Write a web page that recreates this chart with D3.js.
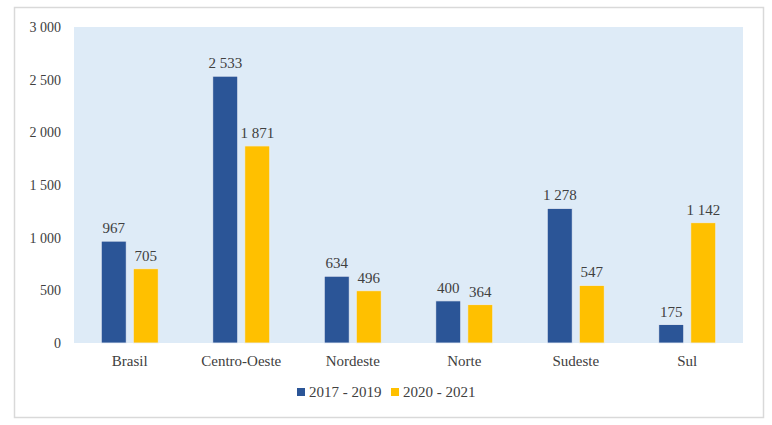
<!DOCTYPE html>
<html>
<head>
<meta charset="utf-8">
<script src="https://cdn.jsdelivr.net/npm/d3@7"></script>
<style>
  html, body { margin: 0; padding: 0; background: #fff; }
</style>
</head>
<body>
<div id="chart"></div>
<script>
const categories = ["Brasil", "Centro-Oeste", "Nordeste", "Norte", "Sudeste", "Sul"];
const seriesNames = ["2017 - 2019", "2020 - 2021"];
const values2017 = [967, 2533, 634, 400, 1278, 175];
const values2020 = [705, 1871, 496, 364, 547, 1142];
const yTicks = [0, 500, 1000, 1500, 2000, 2500, 3000];
const colors = ["#2b5597", "#ffc000"];

const width = 772, height = 425;
const plot = { left: 74, right: 743, top: 27, bottom: 343 };

const fmt = n => d3.format(",")(n).replace(/,/g, " ");

const svg = d3.select("#chart").append("svg")
  .attr("width", width)
  .attr("height", height)
  .attr("font-family", "Times New Roman");

// outer frame
svg.append("rect")
  .attr("x", 14.5).attr("y", 7.5)
  .attr("width", 749).attr("height", 410)
  .attr("fill", "#fff")
  .attr("stroke", "#d9d9d9")
  .attr("stroke-width", 1.5);

// plot background
svg.append("rect")
  .attr("x", plot.left).attr("y", plot.top)
  .attr("width", plot.right - plot.left)
  .attr("height", plot.bottom - plot.top)
  .attr("fill", "#deebf7");

const x = d3.scaleBand()
  .domain(categories)
  .range([plot.left, plot.right]);

const inner = d3.scaleBand()
  .domain(seriesNames)
  .range([0, 57])
  .paddingInner(0.22);

const y = d3.scaleLinear()
  .domain([0, 3000])
  .range([plot.bottom, plot.top]);

function styleText(sel, size) {
  sel.attr("style", `font-family:'Times New Roman'; font-size:${size}px`)
    .attr("font-family", "Times New Roman")
    .attr("fill", "#404040");
}

// y axis
const yAxis = svg.append("g")
  .attr("transform", `translate(${plot.left},0)`)
  .call(d3.axisLeft(y).tickValues(yTicks).tickFormat(fmt).tickSize(0).tickPadding(13));
yAxis.attr("font-family", "Times New Roman").attr("font-size", 14);
yAxis.select(".domain").remove();
yAxis.selectAll("text").call(styleText, 14);

// x axis
const xAxis = svg.append("g")
  .attr("transform", `translate(0,${plot.bottom})`)
  .call(d3.axisBottom(x).tickSize(0).tickPadding(12));
xAxis.attr("font-family", "Times New Roman").attr("font-size", 15);
xAxis.select(".domain").remove();
xAxis.selectAll("text").call(styleText, 15);

const rows = categories.map((c, i) => ({
  cat: c,
  vals: [
    { s: seriesNames[0], v: values2017[i], c: colors[0] },
    { s: seriesNames[1], v: values2020[i], c: colors[1] }
  ]
}));

const groups = svg.selectAll(".grp")
  .data(rows)
  .join("g")
  .attr("class", "grp")
  .attr("transform", d => `translate(${x(d.cat) + x.bandwidth() / 2 - 28.5},0)`);

groups.selectAll("rect")
  .data(d => d.vals)
  .join("rect")
  .attr("x", d => inner(d.s))
  .attr("width", inner.bandwidth())
  .attr("y", d => y(d.v))
  .attr("height", d => plot.bottom - y(d.v))
  .attr("fill", d => d.c)
  .attr("stroke", "#e8eef7")
  .attr("stroke-width", 0.8);

groups.selectAll(".val")
  .data(d => d.vals)
  .join("text")
  .attr("class", "val")
  .attr("x", d => inner(d.s) + inner.bandwidth() / 2)
  .attr("y", d => y(d.v) - 8)
  .attr("text-anchor", "middle")
  .text(d => fmt(d.v))
  .call(styleText, 15);

// legend
const legend = svg.append("g");
const legendX = [297, 391];
seriesNames.forEach((s, i) => {
  legend.append("rect")
    .attr("x", legendX[i]).attr("y", 388)
    .attr("width", 8).attr("height", 8)
    .attr("fill", colors[i]);
  legend.append("text")
    .attr("x", legendX[i] + 12).attr("y", 397)
    .text(s)
    .call(styleText, 15);
});
</script>
</body>
</html>
